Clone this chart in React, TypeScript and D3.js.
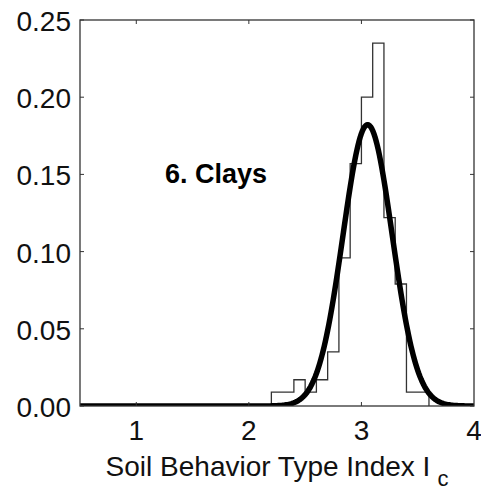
import * as d3 from "d3";

// histogram: relative frequency per 0.1-wide bin of Ic
const binStarts = [2.2, 2.3, 2.4, 2.5, 2.6, 2.7, 2.8, 2.9, 3.0, 3.1, 3.2, 3.3, 3.4, 3.5];
const binFreq = [0.009, 0.009, 0.017, 0.009, 0.017, 0.035, 0.096, 0.157, 0.2, 0.235, 0.122, 0.079, 0.009, 0.009];
const binWidth = 0.1;

// fitted normal distribution (scaled to the bin width)
const fitMean = 3.055;
const fitStd = 0.219;

const xTicks = [1, 2, 3, 4];
const yTicks = [0, 0.05, 0.1, 0.15, 0.2, 0.25];

const W = 481;
const H = 491;
const margin = { top: 20, right: 7, bottom: 85, left: 80 };

export default function App() {
  const x = d3.scaleLinear().domain([0.5, 4]).range([margin.left, W - margin.right]);
  const y = d3.scaleLinear().domain([0, 0.25]).range([H - margin.bottom, margin.top]);

  // stair outline of the histogram
  const pts: [number, number][] = [[binStarts[0], 0]];
  binStarts.forEach((b, i) => {
    pts.push([b, binFreq[i]]);
    pts.push([b + binWidth, binFreq[i]]);
  });
  pts.push([binStarts[binStarts.length - 1] + binWidth, 0]);
  const histPath = d3.line<[number, number]>().x(d => x(d[0])).y(d => y(d[1]))(pts) || "";

  const curvePts = d3.range(0.5, 4.0001, 0.01).map(v => {
    const z = (v - fitMean) / fitStd;
    return [v, (binWidth / (fitStd * Math.sqrt(2 * Math.PI))) * Math.exp(-0.5 * z * z)] as [number, number];
  });
  const curvePath = d3.line<[number, number]>().x(d => x(d[0])).y(d => y(d[1]))(curvePts) || "";

  const x0 = margin.left, x1 = W - margin.right, y0 = H - margin.bottom, y1 = margin.top;
  const font = "Liberation Sans, Arial, sans-serif";

  return (
    <svg width={W} height={H} style={{ position: "absolute", left: 0, top: 0, background: "#fff" }}>
      <defs>
        <clipPath id="plot">
          <rect x={x0} y={y1 - 5} width={x1 - x0} height={y0 - y1 + 5} />
        </clipPath>
      </defs>
      <path d={histPath} fill="none" stroke="#333" strokeWidth={1.3} />
      <g clipPath="url(#plot)">
        <path d={curvePath} fill="none" stroke="#000" strokeWidth={5.5} strokeLinejoin="round" />
      </g>
      <rect x={x0} y={y1} width={x1 - x0} height={y0 - y1} fill="none" stroke="#333" strokeWidth={1.3} />
      {xTicks.map(t => (
        <g key={"x" + t}>
          {t < 4 && <line x1={x(t)} x2={x(t)} y1={y0} y2={y0 - 4} stroke="#333" strokeWidth={1} />}
          {t < 4 && <line x1={x(t)} x2={x(t)} y1={y1} y2={y1 + 4} stroke="#333" strokeWidth={1} />}
          <text x={x(t)} y={440} textAnchor="middle" fontFamily={font} fontSize={28} fill="#111">{t}</text>
        </g>
      ))}
      {yTicks.map(t => (
        <g key={"y" + t}>
          <line x1={x0} x2={x0 + 4} y1={y(t)} y2={y(t)} stroke="#333" strokeWidth={1} />
          <line x1={x1} x2={x1 - 4} y1={y(t)} y2={y(t)} stroke="#333" strokeWidth={1} />
          <text x={71} y={y(t) + 11} textAnchor="end" fontFamily={font} fontSize={28} fill="#111">{t.toFixed(2)}</text>
        </g>
      ))}
      <text x={(x0 + x1) / 2} y={476} textAnchor="middle" fontFamily={font} fontSize={28} fill="#111">
        Soil Behavior Type Index I<tspan fontSize={22} dx={7} dy={10}>c</tspan>
      </text>
      <text x={165} y={183} fontFamily={font} fontSize={27} fontWeight="bold" fill="#000">6. Clays</text>
    </svg>
  );
}
